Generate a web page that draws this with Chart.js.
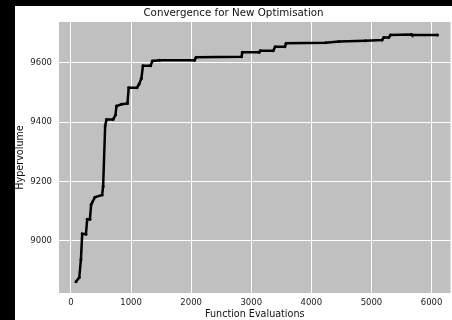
<!DOCTYPE html>
<html>
<head>
<meta charset="utf-8">
<script src="https://cdn.jsdelivr.net/npm/chart.js@4"></script>
<style>
  html, body { margin: 0; padding: 0; background: #000; }
  #wrap { position: absolute; left: 15px; top: 6px; width: 437px; height: 314px; background: #fff; }
</style>
</head>
<body>
<div id="wrap"><canvas id="myChart"></canvas></div>
<script>
// values
const evaluations = [83, 138, 166, 187, 249, 270, 315, 336, 360, 398, 519, 535, 569, 592, 701, 741, 757, 840, 940, 961,
  1099, 1132, 1172, 1198, 1326, 1354, 1475, 2055, 2083, 2839, 2851, 3133, 3150, 3365, 3398, 3559, 3580, 4238, 4459, 4901,
  5177, 5205, 5288, 5316, 5664, 5674, 6100];
const hypervolume = [8863, 8877, 8938, 9024, 9023, 9073, 9073, 9123, 9132, 9147, 9155, 9183, 9387, 9409, 9409, 9424, 9454, 9460, 9463, 9516,
  9516, 9527, 9547, 9590, 9590, 9606, 9608, 9608, 9618, 9620, 9635, 9635, 9640, 9640, 9654, 9654, 9665, 9667, 9671, 9674,
  9676, 9685, 9685, 9693, 9695, 9693, 9693];
const xTicks = [0, 1000, 2000, 3000, 4000, 5000, 6000];
const yTicks = [9000, 9200, 9400, 9600];

const plotBg = {
  id: "plotBg",
  beforeDraw: (chart) => {
    const { ctx, chartArea } = chart;
    ctx.save();
    ctx.fillStyle = "#c0c0c0";
    ctx.fillRect(chartArea.left, chartArea.top, chartArea.right - chartArea.left, chartArea.bottom - chartArea.top);
    ctx.restore();
  },
};

const font = "'DejaVu Sans', sans-serif";

const ctx = document.getElementById("myChart").getContext("2d");
const myChart = new Chart(ctx, {
  type: "line",
  data: {
    datasets: [
      {
        data: evaluations.map((x, i) => ({ x: x, y: hypervolume[i] })),
        borderColor: "#000",
        backgroundColor: "#000",
        borderWidth: 2.5,
        pointRadius: 1.5,
        pointBorderWidth: 0,
        pointHoverRadius: 1.5,
        tension: 0,
      },
    ],
  },
  plugins: [plotBg],
  options: {
    animation: false,
    responsive: true,
    maintainAspectRatio: false,
    layout: { padding: 0 },
    plugins: {
      legend: { display: false },
      tooltip: { enabled: false },
      title: {
        display: true,
        text: "Convergence for New Optimisation",
        color: "#111",
        font: { family: font, size: 10.3, weight: "normal" },
        padding: { top: 1, bottom: 2.6 },
      },
    },
    scales: {
      x: {
        type: "linear",
        min: -199,
        max: 6315,
        afterBuildTicks: (scale) => { scale.ticks = xTicks.map((v) => ({ value: v })); },
        afterFit: (scale) => { scale.height = 27; },
        grid: { color: "#ffffff", lineWidth: 1, drawTicks: false },
        border: { display: false },
        ticks: {
          padding: 5,
          color: "#222",
          font: { family: font, size: 8.5 },
          callback: (v) => String(v),
        },
        title: {
          display: true,
          text: "Function Evaluations",
          color: "#111",
          font: { family: font, size: 9.6 },
          padding: 0,
        },
      },
      y: {
        min: 8825,
        max: 9737,
        afterBuildTicks: (scale) => { scale.ticks = yTicks.map((v) => ({ value: v })); },
        afterFit: (scale) => { scale.width = 44; },
        grid: { color: "#ffffff", lineWidth: 1, drawTicks: false },
        border: { display: false },
        ticks: {
          padding: 7,
          color: "#222",
          font: { family: font, size: 8.5 },
          callback: (v) => String(v),
        },
        title: {
          display: true,
          text: "Hypervolume",
          color: "#111",
          font: { family: font, size: 9.6 },
          padding: 0,
        },
      },
    },
  },
});
</script>
</body>
</html>
